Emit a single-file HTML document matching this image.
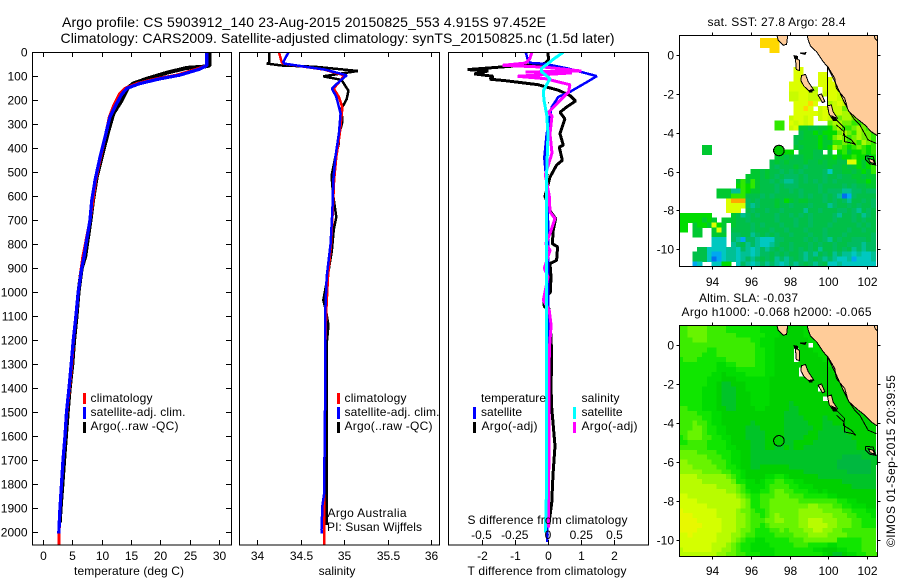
<!DOCTYPE html>
<html lang="en">
<head>
<meta charset="utf-8">
<title>Argo profile CS 5903912_140</title>
<style>
html,body{margin:0;padding:0;background:#fff;width:900px;height:580px;overflow:hidden}
svg{display:block}
text{font-family:"Liberation Sans",Arial,sans-serif;font-size:12px;fill:#000}
.title{font-size:14px}
.frame{fill:none;stroke:#000;stroke-width:1;shape-rendering:crispEdges}
.mark{shape-rendering:crispEdges}
</style>
</head>
<body>
<svg id="chart" xmlns="http://www.w3.org/2000/svg" width="900" height="580" viewBox="0 0 900 580">
  <defs>
    <clipPath id="clip-t"><rect x="33" y="52" width="198" height="493"/></clipPath>
    <clipPath id="clip-s"><rect x="240" y="52" width="199" height="493"/></clipPath>
    <clipPath id="clip-d"><rect x="449" y="52" width="199" height="493"/></clipPath>
    <clipPath id="clip-m1"><rect x="680" y="36" width="197" height="230"/></clipPath>
    <clipPath id="clip-m2"><rect x="680" y="326" width="197" height="230"/></clipPath>
  </defs>

  <text class="title" x="62" y="27" textLength="484" lengthAdjust="spacing">Argo profile: CS 5903912_140 23-Aug-2015 20150825_553 4.915S 97.452E</text>
  <text class="title" x="60.5" y="43" textLength="554" lengthAdjust="spacing">Climatology: CARS2009. Satellite-adjusted climatology: synTS_20150825.nc (1.5d later)</text>

  <g id="panel-t"></g>
  <g id="panel-s"></g>
  <g id="panel-d"></g>
  <g id="map-1"></g>
  <g id="map-2"></g>

  <rect class="frame" x="32.5" y="52.5" width="199" height="492.5"/>
  <rect class="frame" x="239.5" y="52.5" width="200" height="492.5"/>
  <rect class="frame" x="448.5" y="52.5" width="200" height="492.5"/>
  <rect class="frame" x="679.5" y="35.5" width="198" height="231"/>
  <rect class="frame" x="679.5" y="325.5" width="198" height="231"/>

  <text x="74" y="575" textLength="110" lengthAdjust="spacing">temperature (deg C)</text>
  <text x="337" y="575" text-anchor="middle">salinity</text>
  <text x="467.5" y="575" textLength="159" lengthAdjust="spacing">T difference from climatology</text>
  <text x="467.5" y="524" textLength="160" lengthAdjust="spacing">S difference from climatology</text>

  <g>
    <rect class="mark" x="83" y="393" width="3" height="11" fill="#f00"/>
    <rect class="mark" x="83" y="407" width="3" height="12" fill="#00f"/>
    <rect class="mark" x="83" y="422" width="3" height="11" fill="#000"/>
    <text x="90.5" y="402" textLength="62" lengthAdjust="spacing">climatology</text>
    <text x="90.5" y="416" textLength="95" lengthAdjust="spacing">satellite-adj. clim.</text>
    <text x="90.5" y="430" textLength="88" lengthAdjust="spacing">Argo(..raw -QC)</text>
  </g>
  <g>
    <rect class="mark" x="337" y="393" width="3" height="11" fill="#f00"/>
    <rect class="mark" x="337" y="407" width="3" height="12" fill="#00f"/>
    <rect class="mark" x="337" y="422" width="3" height="11" fill="#000"/>
    <text x="344.5" y="402" textLength="62" lengthAdjust="spacing">climatology</text>
    <text x="344.5" y="416" textLength="95" lengthAdjust="spacing">satellite-adj. clim.</text>
    <text x="344.5" y="430" textLength="88" lengthAdjust="spacing">Argo(..raw -QC)</text>
    <text x="327.5" y="517" textLength="79" lengthAdjust="spacing">Argo Australia</text>
    <text x="327" y="531" textLength="95" lengthAdjust="spacing">PI: Susan Wijffels</text>
  </g>
  <g>
    <text x="481" y="402" textLength="65" lengthAdjust="spacing">temperature</text>
    <rect class="mark" x="473" y="407" width="3" height="12" fill="#00f"/>
    <rect class="mark" x="473" y="422" width="3" height="11" fill="#000"/>
    <text x="481" y="416" textLength="41" lengthAdjust="spacing">satellite</text>
    <text x="481.5" y="430" textLength="56" lengthAdjust="spacing">Argo(-adj)</text>
    <text x="581.5" y="402" textLength="38" lengthAdjust="spacing">salinity</text>
    <rect class="mark" x="573" y="407" width="3" height="12" fill="#0ff"/>
    <rect class="mark" x="573" y="422" width="3" height="11" fill="#f0f"/>
    <text x="581.5" y="416" textLength="41" lengthAdjust="spacing">satellite</text>
    <text x="581.5" y="430" textLength="56" lengthAdjust="spacing">Argo(-adj)</text>
  </g>

  <text x="707.5" y="26" textLength="138" lengthAdjust="spacing">sat. SST: 27.8 Argo: 28.4</text>
  <text x="699" y="302" textLength="99" lengthAdjust="spacing">Altim. SLA: -0.037</text>
  <text x="681.5" y="316" textLength="190" lengthAdjust="spacing">Argo h1000: -0.068 h2000: -0.065</text>
  <text transform="translate(895 547) rotate(-90)" x="0" y="0" textLength="172" lengthAdjust="spacing">©IMOS 01-Sep-2015 20:39:55</text>
</svg>

<script>
// ---------- axis tick data ----------
const depthTicks = [0,100,200,300,400,500,600,700,800,900,1000,1100,1200,1300,1400,1500,1600,1700,1800,1900,2000];
const tempTicks = [0,5,10,15,20,25,30];
const salTicks = [34,34.5,35,35.5,36];
const tDiffTicks = [-2,-1,0,1,2];
const sDiffTicks = [-0.5,-0.25,0,0.25,0.5];
const lonTicks = [94,96,98,100,102];
const latTicks = [0,-2,-4,-6,-8,-10];

// ---------- temperature profiles ----------
const tempClimDepth = [0,55,70,95,110,130,150,175,225,270,340,440,530,620,700,800,850,900,1000,1100,1200,1300,1400,1500,1600,1700,1800,1900,2000,2050];
const tempClim = [27.9,27.9,26.2,22.8,19.4,16,14,13,12,11.3,10.7,9.8,9,8.5,8,7.2,6.8,6.5,6,5.6,5.2,4.9,4.5,4.05,3.75,3.4,3.15,2.9,2.75,2.7];
const tempSatDepth = [0,55,70,95,110,130,150,175,225,270,340,440,530,620,700,800,850,900,1000,1100,1200,1300,1400,1500,1600,1700,1800,1900,2005];
const tempSat = [27.9,27.9,26.7,23.3,20,16.5,14.3,13.4,12.3,11.4,10.7,9.7,8.9,8.3,8,7.3,7,6.6,6,5.6,5.16,4.8,4.43,4,3.75,3.4,3.15,2.9,2.7];
const tempArgoDepth = [0,55,60,65,85,110,130,147,200,255,330,436,520,620,700,800,850,900,1000,1100,1200,1300,1400,1500,1600,1700,1800,1900,1960];
const tempArgo = [28.4,28.4,27.3,24.5,21.1,17.7,15.4,14.5,13.4,12,11.1,10,9.15,8.5,8.1,7.5,7.2,6.6,6.05,5.7,5.3,5,4.55,4.2,3.9,3.6,3.3,3,2.85];

// ---------- salinity profiles ----------
const salClimDepth = [0,40,47,58,72,96,117,151,186,230,339,436,533,658,797,936,1075,1213,1500,1840,1990,2050];
const salClim = [34.25,34.28,34.3,34.5,34.77,35,34.96,34.88,34.94,34.98,34.95,34.91,34.885,34.87,34.85,34.815,34.795,34.785,34.78,34.77,34.77,34.77];
const salSatDepth = [0,40,47,58,72,96,117,151,186,255,339,436,533,658,797,936,1075,1213,1500,1840,1890,1990,2005];
const salSat = [34.36,34.3,34.31,34.51,34.78,35.03,34.96,34.86,34.91,34.96,34.94,34.9,34.875,34.865,34.845,34.8,34.783,34.783,34.78,34.77,34.75,34.74,34.74];
const salArgoDepth = [0,45,47,55,60,78,92,100,115,160,195,235,290,345,380,436,515,600,686,741,825,936,1033,1075,1137,1213,1500,1900,1970];
const salArgo = [34.135,34.135,34.11,34.28,34.66,35.16,34.9,34.76,34.97,35.05,35.03,34.97,34.98,34.94,34.94,34.9,34.855,34.875,34.91,34.88,34.86,34.81,34.76,34.79,34.82,34.8,34.8,34.8,34.8];

// ---------- difference profiles ----------
const diffTSatDepth = [0,26,44,48,68,99,124,165,186,228,280,340,440,550,700,1000,1400,1800,2040];
const diffTSat = [-0.67,-0.62,-0.54,-0.1,0.61,1.47,1.17,0.66,0.31,0.11,0.04,-0.04,-0.11,-0.04,0,0,0,0,-0.02];
const diffTArgoDepth = [0,30,47,72,78,90,100,112,118,135,158,180,203,228,250,277,339,387,395,450,470,520,600,665,693,741,797,811,867,880,936,1000,1027,1060,1068,1186,1270,1395,1480,1640,1760,1880,1980];
const diffTArgo = [-0.01,0.02,-0.09,-2.42,-1.8,-2.22,-1.65,-1.75,-1.3,-0.3,0.31,0.66,0.83,0.56,0.36,0.51,0.36,0.46,0.34,0.43,0.26,0.06,-0.09,0.08,0.23,0.16,0.13,0.29,0.26,0.06,0.09,0.07,-0.13,-0.11,0.03,0.09,0.11,0.09,0.11,0.21,0.15,0.11,0.01];
const diffSSatDepth = [0,25,68,80,110,160,200,260,340,500,700,1000,1400,1800,2000];
const diffSSat = [0.115,0.05,-0.05,-0.05,0.015,-0.035,-0.03,-0.01,0,-0.01,-0.01,-0.01,-0.01,-0.01,-0.02];
const diffSArgoDepth = [0,30,45,54,62,78,82,86,100,110,135,165,235,250,265,340,420,510,600,665,693,755,797,825,900,936,1033,1075,1137,1240,1395,1700,1980];
const diffSArgo = [-0.12,-0.14,-0.17,-0.34,-0.02,0.25,-0.17,0.18,-0.23,-0.02,0.165,0.155,0.03,0.003,0.03,0.015,0.03,-0.02,0.01,0.015,0.053,0.015,-0.017,0.015,-0.028,0,-0.035,0.009,0.023,0.01,0.008,0.006,0.004];

// ---------- map data: one character per 0.25 degree cell, north to south ----------
const sstRows = [
".........................................",
".................llll....................",
".................llll....................",
"...................ll....................",
".........................................",
".........................................",
".........................................",
"........................kk...............",
"........................kk...kk..........",
"........................kk...kkk.........",
".......................kkk...kkkk........",
".......................kkkkii.kkkjk......",
".......................jjkkjj.jkkjji.....",
".......................jjkkjjj.kkjjih....",
"........................kkklk..ijkjhih...",
"........................kklk.jkkjjhiihhh.",
"........................kkkkkjkkjjiihhhg.",
".......................jkkjk.jkjjhiihhggh",
"....................gg.kjkjk...hiihhgghig",
"....................gg.jkeeddeefhigghihgh",
".........................deefefffhihgihhg",
"........................ddeeefefhihghihhg",
"........................deeeefeegghghgihg",
".....ee.................edeeefefihgfghgfg",
".....ee.............efff.eeedd.e.fgeffgfg",
"....................eededdeeddeefeffgffef",
"...................dededddeddedeeddkkfeff",
"...................dcdddedcddddeddedefefg",
"...............eededdcdcdcddddcaddeedefeg",
"..............eeededcdcccdcdddcddcddeedee",
"............egegeddcdcbbcdcdcdcdcddddeefe",
"............fgfgedddcdcccddddcddddcdcddee",
"........eeebbgfeedddcddcdcdddcdcccbbccdcc",
"........eeegggdddcdcdddddcdcddcdcbBAcdddd",
"..........kmmmcdcdddedfedeedddcdcdcbddcdc",
"..........kkkkcbcdddeddcdddcdddbcddcdcddc",
"..........kkk.dcddcddcddddbddcdddccdcbdcd",
"fffffff....edbcdcdddcddcdcdcddddcbddcdbcd",
"fffffefe.eeeddcdddddcdddcddcddddcdddcdcdd",
"ff.effekfe.edddcdcdddcddcddcdddcdddddcdcd",
"ff.ee..ekd.ddddcdddcddcdddcdddcddddcddcdd",
"...ee..eee.ccddbcdcdcddcdddcddcdddcdddddc",
".......aaa.cbAccbaaaccddddcdcdcbdcddcccdc",
".......aaa.bcdbcbaabcddcdddcdcddcddcccbcc",
"....ddaaaabbacbabcbcdcdcdcdcdbddcdcdbcbcc",
"...dddaAAabbabbabccdcdcddcbcbdcdbcbbabaab",
"...dddaBAabbabcbcdcdbcbcdcbcdcbcbaabAaaab",
"...Aa..aaff.acbabcbcbabcbcdcbcdaabaaaaaaa"
];
const slaRows = [
"uuvvvvuuuutttttttsssssrrrrssssssssssssss",
"uuvvvvuuuutttttttsssssrrrrsssssssssssssss",
"uuvvvvuuuuuuttttttsssrrrrrssssssssssssssss",
"uuuvvvuuuuuuuuuttsssrrrrrrrssssssssssssss",
"uuuuuuuuuuuuuuuutsssrrrrrrr.sssssssssssss",
"uuuuuuttuuuuuuuuttssrrrr.rrrsssssssssssss",
"uuuuutttuuuuuuuuttssrrrr.rrrrssssssssssss",
"tuuuttttttuuuuuuttssrrrr.rrrrrsssssssssss",
"ttttttttssttuuuuttssrrrrrrrrrrrssssssssss",
"ttttttttssssttttttssrrrrr.rrrrrrsssssssss",
"tttttttssrssssttttssrrrrr.rrrrrrrssssssss",
"ttttttsssrrrsssssssrrrrrrrrrrrrrrsssssss",
"ttttttssrqqrrrsssssrrrrrrrrrrrrrrrssssss",
"tttttsssrqqqrrsssssrrrrrrrrrr.rrrrrrsssss",
"tttttsssrqqqrrrssssrrrrrrrrrrrrrrrrrssss",
"tttttsssrqqqrrrssssrrrrrrrrrrr..rrrrrssss",
"tttttsssrqqqrrrssssrrrrqrrrrrrrrrrrrrsss",
"uutttsssrrqqrrrrssrrrrrqqrrrrrrrrrrrrrss",
"uuuutttssrrrrrrrrrrrrrqqqrrrrrrrrrrrrrrs",
"uuuuuttssrrrrrrrrrrrrrqqqqrrrrqrrrrrrrrrr",
"uuuvuutssrrrrrrqrrrrrrqqqqqrrrqqrrrrrrrrr",
"uuuvvuttssrrrrqqqrrrrrqqqqqqrrqqqqrrrrrrr",
"uuvvvuttssrrrrqqqqrrrrqqqqqrrqqqqqqrrrrrr",
"tuvvvuuttssrrrqqqqrrrrqqqqrrrqqqqqqqrrrrr",
"ttuuuuttttsrrrrqqqrrrrqqrrrrqqqqqqqqqrrrr",
"uuuuuuttttssrrrqqqrrqqrqrrqqqqqqqqqqqrrrr",
"vvvvuuuutttssrrqqqqqqqqqqqqqqqqqqqqqqqqqq",
"vvvvvvuuuttssrrqqqqqqqqqqqqqqqqqqqppppqqqq",
"wwvvvvvuuutssrrqqqqqqqqqqqqqqqqqqpppppppqq",
"wwwvvvvvuuttsrrqqrrrrrrqqqqqqqqqqpppppppq",
"wwwwwvvvvuuttsrrrrrrrrrrrrqqqqqqqqqpppppq",
"xxxxwwwwwwvutsrrrrssttsrrrrrrqqqqqqqqqqqq",
"xxxxxwwwwwwvttssrsttuuttssrrrrrrrrqqqqqqq",
"xxxxxxxxwwwwvusssstuuuuttsssrrrrrrrrqqqqq",
"xxxxxxxxxxwwvutssttuvvuutttssrsrrrrrrrrrr",
"yyxxxxxxxxxxwvuttuuuvvvuuutttttssrrrrrrrr",
"yyyyxxxxxxxxxwvttuuvvvvvvuuuuuuuuttssrrrr",
"yyyyyyxxxxxxxwvttuuvvvvvvvvwwvvvuuttsssrr",
"zyyyyyyyxxxxwvvuttuvvvvvvwwwwwvvvvuutttss",
"zzzyyyyyxxxxwwvuutuvwvvvvwwwwwwwvvvuuttts",
"zzzzyyyyyxxxwwvuuuvvwwvvvwwxxxwwwvvvuuttt",
"zzzzzyyyyxxxwwvuutuvvvvvvwwxxxxwwvvvuuttt",
"zzzzyyyyyxxxwvvutttuuvuvvvwwxxwwvvuuuuuuu",
"yyzyyyyyxxxwwvuutttt uuuuvvvwwwwvvvvuuuuuu".replace(" ",""),
"yyyyyyyyxxxwvuttssttttt uuuvvvvvvvtttttuuu".replace(" ",""),
"yyyyyyyxxxwvuttssssttttt uuuttttsstttttuuu".replace(" ",""),
"xyyyyyyxxwwvuttsssssttttttttssrrrsstttuuu",
"xxxxxxxxwwvvuutttsssttttttttttsrqqrssttuuu"
];
const sstColors = {A:"#00a8f0",B:"#0070f0",a:"#00c8c0",b:"#00c094",c:"#00bc60",d:"#00c048",e:"#00c830",f:"#00dc00",g:"#30e800",h:"#70f000",i:"#a8f800",j:"#c8fc00",k:"#dcff00",l:"#ffd800",m:"#ffa800"};
const slaColors = {p:"#00b840",q:"#00c428",r:"#00d000",s:"#00dc00",t:"#10e600",u:"#3cec00",v:"#68f400",w:"#90f800",x:"#b8fc00",y:"#d4ff00",z:"#e8f800"};

// ---------- coastline and isobaths, as [lon, lat] ----------
const mainland = [[98.91,1.2],[98.91,1.01],[98.97,0.77],[99.09,0.46],[99.4,0.17],[99.74,-0.34],[99.97,-0.6],[100.26,-1.2],[100.43,-1.54],[100.78,-2.32],[101.09,-2.92],[101.47,-3.26],[101.9,-3.6],[102.24,-3.95],[102.7,-4.25],[102.7,1.2]];
const northIsland = [[97.3,1.2],[97.42,0.75],[97.68,0.5],[97.85,0.55],[97.93,1.2]];
const cornerIsland = [[102.33,1.2],[102.43,0.86],[102.6,0.66],[102.6,1.2]];
const islands = [
  [[98.3,-0.1],[98.53,-0.3],[98.52,-0.8],[98.35,-0.75]],
  [[98.55,0.1],[98.85,0.12],[98.8,0.03]],
  [[98.62,-1.06],[98.83,-1],[98.97,-1.37],[99.26,-1.8],[99.05,-1.89],[98.74,-1.6],[98.59,-1.32]],
  [[99.48,-2.06],[99.66,-2],[99.83,-2.4],[99.71,-2.45]],
  [[99.97,-2.62],[100.17,-2.57],[100.26,-2.92],[100.48,-3.26],[100.29,-3.38],[100.05,-3.04]],
  [[102.07,-5.32],[102.33,-5.4],[102.41,-5.6],[102.19,-5.53]]
];
const shoals = [
  [[98.2,0],[98.45,-0.05],[98.45,-0.25],[98.25,-0.2]],
  [[99,-1.8],[99.2,-1.75],[99.2,-1.92],[99,-1.92]],
  [[100.15,-3.1],[100.4,-3.2],[100.45,-3.4],[100.25,-3.4]]
];
const isobaths = [
  [[99.97,-0.57],[99.97,-2.6]],
  [[99.97,-0.57],[100.34,-1.2],[100.43,-1.72],[100.86,-2.23],[101.03,-2.83],[101.38,-3.34],[101.64,-3.6],[102.07,-4.37],[102.5,-4.55]],
  [[100.43,-3.34],[100.86,-3.77],[100.79,-4.12],[101.2,-4.37],[101.43,-4.63],[101.29,-4.55],[100.86,-4.46],[100.83,-3.95],[100.43,-3.6]],
  [[101.95,-5.2],[102.33,-5.23],[102.47,-5.66],[102.16,-5.6],[101.95,-5.4],[101.95,-5.2]]
];
const floatLon = 97.452;
const floatLat = -4.915;

// ---------- axis functions ----------
const yDepth = d => 52.3 + d * 0.24;
const xTemp = v => 43 + v * 5.87;
const xSal = v => 257.3 + (v - 34) * 86.8;
const xDT = v => 548 + v * 33.2;
const xDS = v => 548 + v * 133;
const xLon = v => 712.3 + (v - 94) * 19.3;
const yLat1 = v => 55 - v * 19.43;
const yLat2 = v => 345 - v * 19.5;

const NS = "http://www.w3.org/2000/svg";
function el(tag, attrs, parent) {
  const n = document.createElementNS(NS, tag);
  for (const k in attrs) n.setAttribute(k, attrs[k]);
  parent.appendChild(n);
  return n;
}
function tickLine(parent, x1, y1, x2, y2) {
  const t = el("line", {x1, y1, x2, y2, stroke: "#000", "stroke-width": 1, "shape-rendering": "crispEdges"}, parent);
  
  
}
function tickLabel(parent, x, y, anchor, str) {
  const t = el("text", {x, y, "text-anchor": anchor}, parent);
  
  
  t.textContent = str;
}
function profile(parent, clip, depths, values, xf, color, width, name) {
  const g = el("g", {"clip-path": "url(#" + clip + ")"}, parent);
  
  
  const pts = depths.map((d, i) => xf(values[i]).toFixed(1) + "," + yDepth(d).toFixed(1)).join(" ");
  const p = el("polyline", {points: pts, fill: "none", stroke: color, "stroke-width": width, "stroke-linejoin": "bevel", "shape-rendering": "crispEdges"}, g);
  
  
}

// ---------- temperature panel ----------
const pT = document.getElementById("panel-t");
profile(pT, "clip-t", tempArgoDepth, tempArgo, xTemp, "#000", 4, "temperature-argo-line");
profile(pT, "clip-t", tempClimDepth, tempClim, xTemp, "#f00", 3, "temperature-climatology-line");
profile(pT, "clip-t", tempSatDepth, tempSat, xTemp, "#00f", 3.3, "temperature-satellite-line");
depthTicks.forEach(d => {
  const y = Math.round(yDepth(d)) + 0.5;
  tickLine(pT, 32.5, y, 38, y);
  tickLine(pT, 226, y, 231.5, y);
  tickLabel(pT, 27.5, y + 4, "end", String(d));
});
tempTicks.forEach(v => {
  const x = Math.round(xTemp(v)) + 0.5;
  tickLine(pT, x, 52.5, x, 57);
  tickLine(pT, x, 540, x, 545);
  tickLabel(pT, x, 560, "middle", String(v));
});

// ---------- salinity panel ----------
const pS = document.getElementById("panel-s");
profile(pS, "clip-s", salArgoDepth, salArgo, xSal, "#000", 2.5, "salinity-argo-line");
profile(pS, "clip-s", salClimDepth, salClim, xSal, "#f00", 2.5, "salinity-climatology-line");
profile(pS, "clip-s", salSatDepth, salSat, xSal, "#00f", 2.5, "salinity-satellite-line");
salTicks.forEach(v => {
  const x = Math.round(xSal(v)) + 0.5;
  tickLine(pS, x, 52.5, x, 57);
  tickLine(pS, x, 540, x, 545);
  tickLabel(pS, x, 560, "middle", String(v));
});

// ---------- difference panel ----------
const pD = document.getElementById("panel-d");
depthTicks.forEach(d => {
  const z = el("rect", {x: 548, y: yDepth(d) + 50, width: 1, height: 1, fill: "#000"}, pD);
  
  
});
profile(pD, "clip-d", diffTArgoDepth, diffTArgo, xDT, "#000", 3, "t-difference-argo-line");
profile(pD, "clip-d", diffTSatDepth, diffTSat, xDT, "#00f", 2.5, "t-difference-satellite-line");
profile(pD, "clip-d", diffSArgoDepth, diffSArgo, xDS, "#f0f", 3, "s-difference-argo-line");
profile(pD, "clip-d", diffSSatDepth, diffSSat, xDS, "#0ff", 3, "s-difference-satellite-line");
tDiffTicks.forEach(v => {
  const x = Math.round(xDT(v)) + 0.5;
  tickLine(pD, x, 52.5, x, 57);
  tickLine(pD, x, 540, x, 545);
  tickLabel(pD, x, 560, "middle", String(v));
});
sDiffTicks.forEach(v => {
  tickLabel(pD, xDS(v), 539, "middle", String(v));
});

// ---------- maps ----------
const CELL = 0.25, LON0 = 92.22, LAT0 = 1.125;
function drawMap(groupId, clip, rows, colors, yLat, labelY, frameTop, frameBottom, circleFill) {
  const root = document.getElementById(groupId);
  const g = el("g", {"clip-path": "url(#" + clip + ")", "shape-rendering": "crispEdges"}, root);
  
  
  rows.forEach((row, r) => {
    for (let c = 0; c < row.length; c++) {
      const col = colors[row[c]];
      if (!col) continue;
      const x0 = xLon(LON0 + c * CELL), y0 = yLat(LAT0 - r * CELL);
      const x1 = xLon(LON0 + (c + 1) * CELL), y1 = yLat(LAT0 - (r + 1) * CELL);
      const cell = el("rect", {x: x0.toFixed(1), y: y0.toFixed(1), width: (x1 - x0 + 0.3).toFixed(1), height: (y1 - y0 + 0.3).toFixed(1), fill: col}, g);
      
      
    }
  });
  const geo = el("g", {"clip-path": "url(#" + clip + ")", "shape-rendering": "crispEdges"}, root);
  
  
  const toPts = a => a.map(p => xLon(p[0]).toFixed(1) + "," + yLat(p[1]).toFixed(1)).join(" ");
  [mainland, northIsland, cornerIsland].concat(islands).forEach(poly => {
    const land = el("polygon", {points: toPts(poly), fill: "#ffcc99", stroke: "#000", "stroke-width": 1}, geo);
    
    
  });
  shoals.forEach(poly => {
    const shoal = el("polygon", {points: toPts(poly), fill: "#000"}, geo);
    
    
  });
  isobaths.forEach(line => {
    const iso = el("polyline", {points: toPts(line), fill: "none", stroke: "#000", "stroke-width": 1}, geo);
    
    
  });
  const circle = el("circle", {cx: xLon(floatLon), cy: yLat(floatLat), r: 5.3, fill: circleFill, stroke: "#000", "stroke-width": 1}, geo);
  
  
  lonTicks.forEach(v => {
    const x = Math.round(xLon(v)) + 0.5;
    tickLine(root, x, frameTop - 3, x, frameTop);
    tickLine(root, x, frameBottom, x, frameBottom + 3);
    tickLabel(root, x, labelY, "middle", String(v));
  });
  latTicks.forEach(v => {
    const y = Math.round(yLat(v)) + 0.5;
    tickLine(root, 676.5, y, 679.5, y);
    tickLine(root, 877.5, y, 880.5, y);
    tickLabel(root, 674, y + 4, "end", String(v));
  });
}
drawMap("map-1", "clip-m1", sstRows, sstColors, yLat1, 286, 35.5, 266.5, "#00c800");
drawMap("map-2", "clip-m2", slaRows, slaColors, yLat2, 575, 325.5, 556.5, "none");
</script>
</body>
</html>
